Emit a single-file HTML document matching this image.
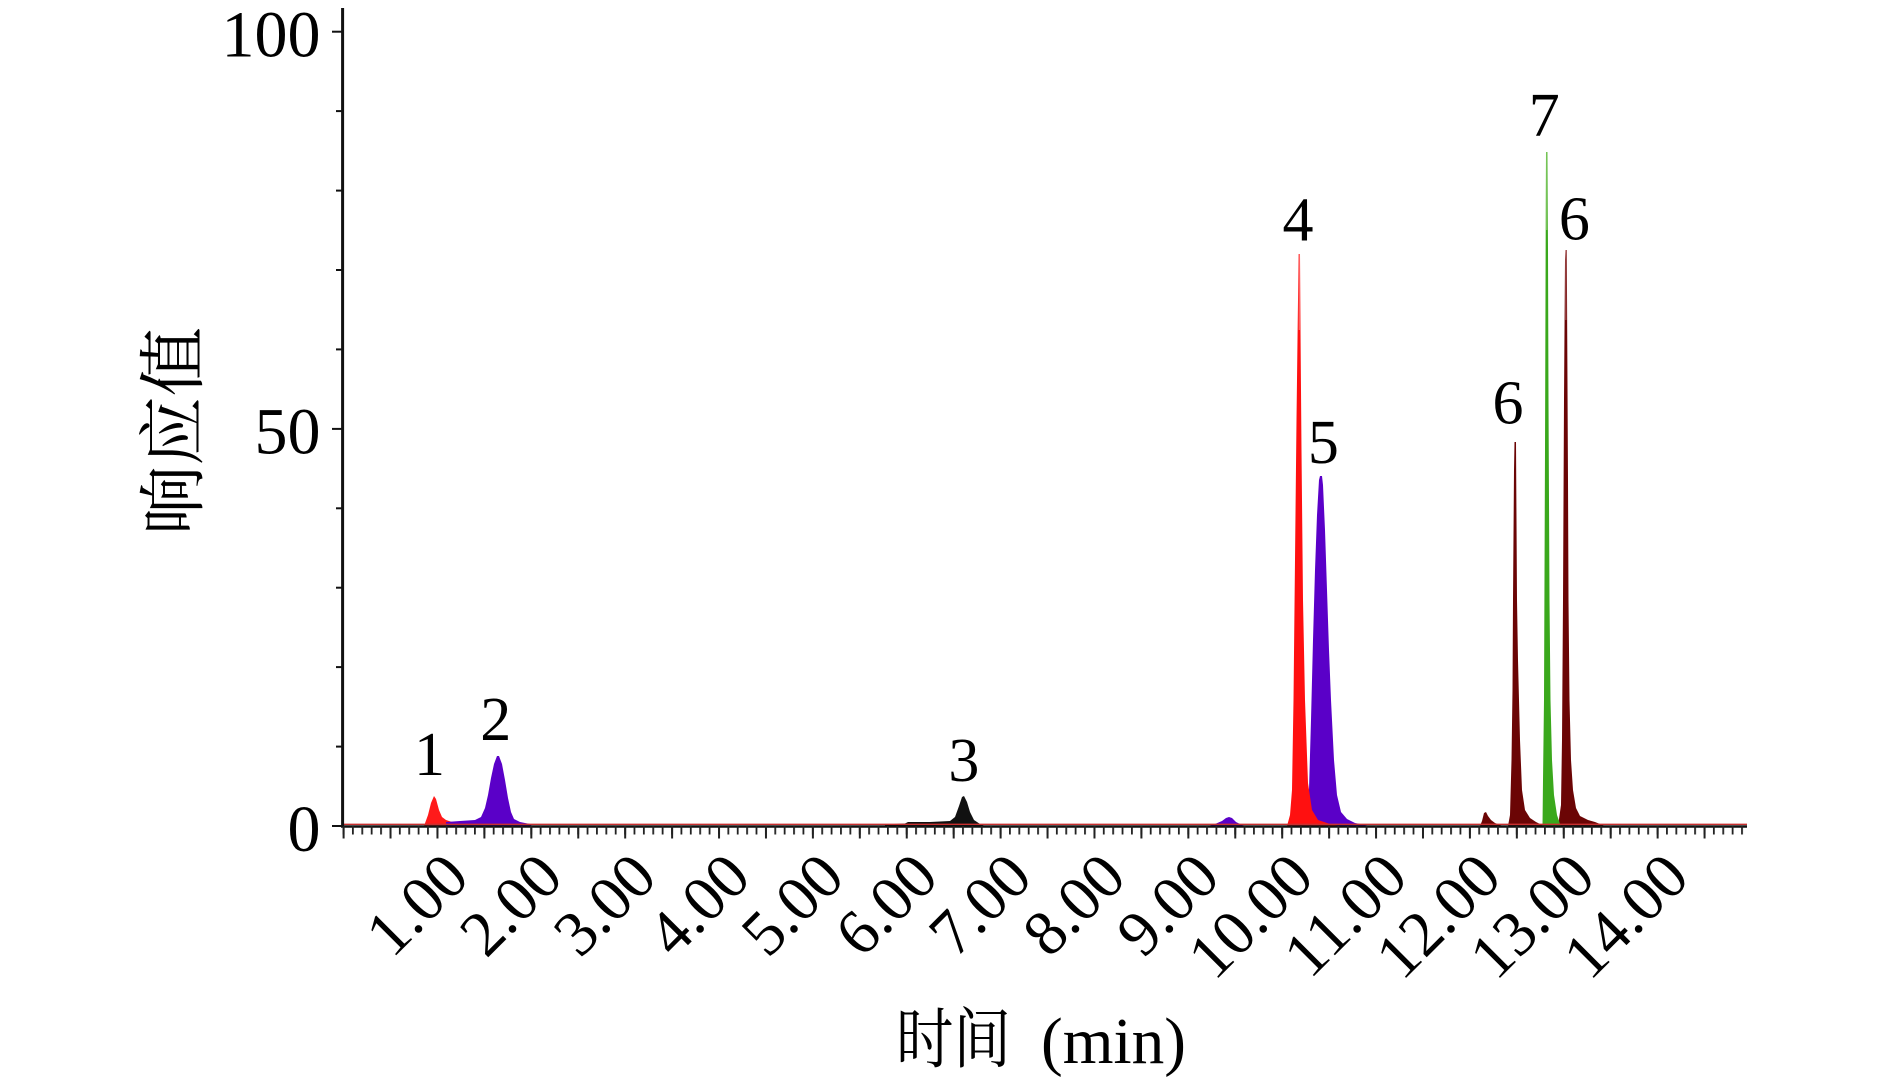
<!DOCTYPE html>
<html>
<head>
<meta charset="utf-8">
<style>
html,body{margin:0;padding:0;background:#fff;}
svg{display:block;}
.t{font-family:"Liberation Serif","Noto Serif CJK SC",serif;fill:#000;}
.c{font-family:"Liberation Serif","Noto Serif CJK SC","Noto Sans CJK SC",serif;fill:#000;}
</style>
</head>
<body>
<svg width="1890" height="1082" viewBox="0 0 1890 1082" xmlns="http://www.w3.org/2000/svg">
<defs>
  <pattern id="minor" patternUnits="userSpaceOnUse" x="342.6" y="0" width="9.386" height="1082">
    <rect x="0" y="826" width="1.8" height="8.5" fill="#222"/>
  </pattern>
  <pattern id="major" patternUnits="userSpaceOnUse" x="342.6" y="0" width="46.93" height="1082">
    <rect x="0" y="826" width="2" height="12.5" fill="#222"/>
  </pattern>
</defs>
<rect width="1890" height="1082" fill="#fff"/>

<!-- peak 1 red -->
<polygon fill="#ff1a1a" points="424,826 428,815 431,803 434,796 436,799 439,810 442,817 446,820 452,822 458,824 460,826"/>
<!-- peak 2 purple -->
<polygon fill="#5a00c8" points="446,826 446,822 460,821 475,820 481,817 485,808 488,795 491,778 494,764 497,756 499,756 502,764 505,780 508,798 511,812 514,819 520,822 530,824 532,826"/>
<!-- peak 3 black -->
<polygon fill="#111" points="885,826 885,824.5 905,823.5 908,822 930,822 950,821 955,817 959,806 962,797 964,796 967,802 970,812 974,820 980,824 985,826"/>
<!-- purple bump -->
<polygon fill="#5a00c8" points="1208,826 1215,824 1222,821 1226,818 1229,817 1232,818 1236,822 1242,825 1246,826"/>
<!-- peak 5 purple -->
<polygon fill="#5a00c8" points="1305,826 1307,815 1309,790 1311,720 1313,640 1315,570 1317,515 1319,480 1320,476 1322,476 1323,485 1325,530 1327,590 1329,650 1331,700 1334,760 1337,795 1341,812 1347,819 1355,823 1365,825 1370,826"/>
<!-- peak 4 red -->
<polygon fill="#ff1010" points="1287,826 1290,815 1292,790 1293.5,700 1295,560 1296.5,420 1298,300 1298.5,254 1300,254 1300.5,330 1301.5,450 1303,600 1305,700 1308,783 1312,810 1318,820 1330,824 1340,826"/>
<line x1="1299.2" y1="254" x2="1299.2" y2="330" stroke="#ff8080" stroke-width="1"/>
<!-- small brown bump -->
<polygon fill="#6b0505" points="1480,826 1482,821 1484,813 1486,812 1488,816 1491,820 1495,823 1500,825 1503,826"/>
<!-- first 6 -->
<polygon fill="#6b0505" points="1508,826 1510,815 1511.5,760 1512.5,690 1513,600 1514,470 1514.5,442 1516,442 1516.5,520 1517,600 1518,660 1519,700 1520,740 1522,790 1525,810 1530,818 1536,822 1542,825 1545,826"/>
<!-- second 6 -->
<polygon fill="#6b0505" points="1558,826 1561,805 1562,740 1563,600 1564,400 1565,260 1565.5,250 1566.8,250 1567.2,330 1568,480 1568.5,600 1569.5,700 1571,760 1573,790 1576,808 1580,816 1588,820 1595,822 1600,824 1605,826"/>
<!-- green 7 -->
<polygon fill="#3aa81c" points="1542.5,826 1543,780 1544,700 1545,450 1545.8,200 1546,152 1547.5,152 1548,250 1548.5,400 1549.5,600 1550.5,700 1552,760 1554,795 1557,815 1560,824 1561,826"/>
<line x1="1546.8" y1="152" x2="1546.8" y2="230" stroke="#8fd070" stroke-width="1"/>
<line x1="1565.9" y1="250" x2="1565.9" y2="320" stroke="#b06060" stroke-width="1"/>

<!-- baseline trace -->
<line x1="343" y1="824.3" x2="1747" y2="824.3" stroke="#c83030" stroke-width="1.4"/>

<!-- axes -->
<line x1="342.6" y1="8" x2="342.6" y2="827.5" stroke="#111" stroke-width="3"/>
<line x1="341" y1="826.5" x2="1747" y2="826.5" stroke="#111" stroke-width="2.6"/>

<!-- x ticks -->
<rect x="342" y="826" width="1404" height="10" fill="url(#minor)"/>
<rect x="342" y="826" width="1404" height="14" fill="url(#major)"/>

<!-- y ticks -->
<g stroke="#111" stroke-width="2">
  <line x1="332" y1="826" x2="343" y2="826"/>
  <line x1="336" y1="746.6" x2="343" y2="746.6"/>
  <line x1="336" y1="667.1" x2="343" y2="667.1"/>
  <line x1="336" y1="587.7" x2="343" y2="587.7"/>
  <line x1="336" y1="508.3" x2="343" y2="508.3"/>
  <line x1="332" y1="428.9" x2="343" y2="428.9"/>
  <line x1="336" y1="349.4" x2="343" y2="349.4"/>
  <line x1="336" y1="270.0" x2="343" y2="270.0"/>
  <line x1="336" y1="190.6" x2="343" y2="190.6"/>
  <line x1="336" y1="111.1" x2="343" y2="111.1"/>
  <line x1="332" y1="31.7" x2="343" y2="31.7"/>
</g>

<!-- y tick labels -->
<g class="t" font-size="66" text-anchor="end">
  <text x="320.5" y="56.5">100</text>
  <text x="320.5" y="453.5">50</text>
  <text x="320.5" y="851">0</text>
</g>

<!-- x tick labels -->
<g class="t" font-size="64" text-anchor="end">
  <text transform="translate(471.5,880) rotate(-45)">1.00</text>
  <text transform="translate(565.4,880) rotate(-45)">2.00</text>
  <text transform="translate(659.2,880) rotate(-45)">3.00</text>
  <text transform="translate(753.1,880) rotate(-45)">4.00</text>
  <text transform="translate(846.9,880) rotate(-45)">5.00</text>
  <text transform="translate(940.8,880) rotate(-45)">6.00</text>
  <text transform="translate(1034.6,880) rotate(-45)">7.00</text>
  <text transform="translate(1128.5,880) rotate(-45)">8.00</text>
  <text transform="translate(1222.3,880) rotate(-45)">9.00</text>
  <text transform="translate(1316.2,880) rotate(-45)">10.00</text>
  <text transform="translate(1410.1,880) rotate(-45)">11.00</text>
  <text transform="translate(1503.9,880) rotate(-45)">12.00</text>
  <text transform="translate(1597.8,880) rotate(-45)">13.00</text>
  <text transform="translate(1691.6,880) rotate(-45)">14.00</text>
</g>

<!-- peak labels -->
<g class="t" font-size="62" text-anchor="middle">
  <text x="429.5" y="775">1</text>
  <text x="495.8" y="740">2</text>
  <text x="963.9" y="781">3</text>
  <text x="1298" y="240.5">4</text>
  <text x="1323.4" y="463">5</text>
  <text x="1508" y="423.5">6</text>
  <text x="1544.2" y="136">7</text>
  <text x="1574.4" y="239.5">6</text>
</g>

<!-- axis titles -->
<text class="c" x="896" y="1062" font-size="66" textLength="115" lengthAdjust="spacingAndGlyphs">时间</text>
<text class="t" x="1041" y="1063" font-size="66" textLength="145" lengthAdjust="spacingAndGlyphs">(min)</text>
<text class="c" font-size="68" text-anchor="middle" textLength="208" lengthAdjust="spacingAndGlyphs" transform="translate(197,431) rotate(-90)">响应值</text>
</svg>
</body>
</html>
